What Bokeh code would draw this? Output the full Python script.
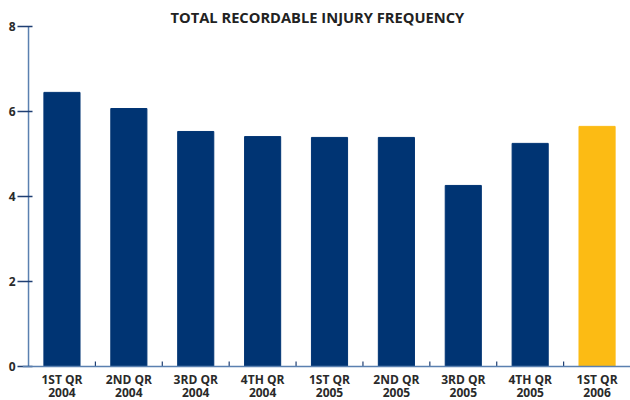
import numpy as np
from bokeh.plotting import figure
from bokeh.models import Range1d, FixedTicker, ColumnDataSource, Span
from bokeh.core.properties import value
from bokeh.embed import file_html
from bokeh.resources import INLINE

categories = ["1ST QR\n2004", "2ND QR\n2004", "3RD QR\n2004", "4TH QR\n2004",
              "1ST QR\n2005", "2ND QR\n2005", "3RD QR\n2005", "4TH QR\n2005",
              "1ST QR\n2006"]
values = [6.45, 6.07, 5.53, 5.41, 5.39, 5.39, 4.26, 5.25, 5.65]
bar_colors = ["#003473"] * 8 + ["#fcbb14"]
y_ticks = [0, 2, 4, 6, 8]

n = len(categories)
centers = np.arange(n) + 0.5
bounds = np.arange(1, n)

src = ColumnDataSource(dict(x=centers, top=values, color=bar_colors,
                            label=categories, base=[0] * n))

p = figure(width=630, height=400, output_backend="svg", toolbar_location=None,
           x_range=Range1d(-0.09, n), y_range=Range1d(-0.8, 8),
           min_border_left=22, min_border_right=0, min_border_top=26, min_border_bottom=0,
           title="TOTAL RECORDABLE INJURY FREQUENCY")
p.title.align = "left"
p.title.text_font = "Open Sans"
p.title.text_font_size = "14.7px"
p.title.text_font_style = "bold"
p.title.text_color = "#222222"
p.title.standoff = 0
p.title.offset = 148
p.outline_line_color = None
p.grid.grid_line_color = None
p.background_fill_color = "white"
p.border_fill_color = "white"
p.xaxis.visible = False

p.vbar(x="x", top="top", width=0.54, color="color", source=src)

# axis lines
p.add_layout(Span(location=0, dimension="width", line_color="#5a80b0", line_width=1.5))
p.segment(x0=[0], x1=[0], y0=[y_ticks[0]], y1=[y_ticks[-1]],
          line_color="#5a80b0", line_width=1.5)
# category boundary ticks
p.segment(x0=bounds, x1=bounds, y0=[0] * len(bounds), y1=[0.12] * len(bounds),
          line_color="#1f3f73", line_width=1.2)

p.text(x="x", y="base", text="label", source=src, y_offset=4,
       text_align="center", text_baseline="top",
       text_font=value("Open Sans"), text_font_size="12px", text_font_style="bold",
       text_color="#2a2a2a", text_line_height=0.8)

ya = p.yaxis[0]
ya.ticker = FixedTicker(ticks=y_ticks)
ya.axis_line_color = None
ya.major_tick_line_color = "#1f3f73"
ya.major_tick_line_width = 1.5
ya.major_tick_out = 5
ya.major_tick_in = 10
ya.minor_tick_line_color = None
ya.major_label_text_font = "Open Sans"
ya.major_label_text_font_size = "12px"
ya.major_label_text_font_style = "bold"
ya.major_label_text_color = "#2a2a2a"
ya.major_label_standoff = 2

open("out.html", "w").write(file_html(p, INLINE))
